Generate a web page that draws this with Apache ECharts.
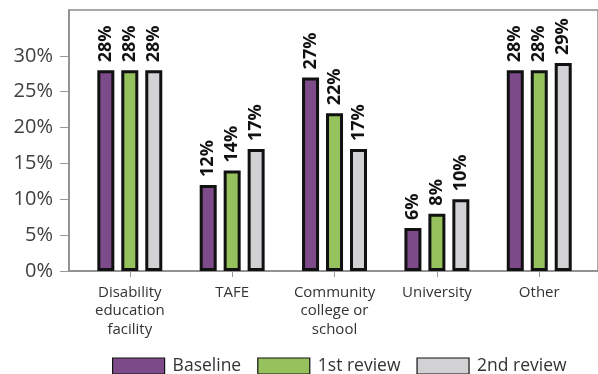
<!DOCTYPE html>
<html>
<head>
<meta charset="utf-8">
<script src="https://cdn.jsdelivr.net/npm/echarts@6/dist/echarts.min.js"></script>
<style>
  html, body { margin: 0; padding: 0; background: #fff; }
  #chart { width: 598px; height: 374px; }
</style>
</head>
<body>
<div id="chart"></div>
<script>
var categories = ['Disability\neducation\nfacility', 'TAFE', 'Community\ncollege or\nschool', 'University', 'Other'];
var seriesNames = ['Baseline', '1st review', '2nd review'];
var baseline = [28, 12, 27, 6, 28];
var firstReview = [28, 14, 22, 8, 28];
var secondReview = [28, 17, 17, 10, 29];
var yTicks = [0, 5, 10, 15, 20, 25, 30];
var colors = ['#7d4b89', '#96c25d', '#d2d2d4'];

var myChart = echarts.init(document.getElementById('chart'));

function toPoints(values) {
    return values.map(function (v, i) { return [i, v]; });
}

var allValues = [baseline, firstReview, secondReview];
var catIndex = categories.map(function (c, i) { return i; });

option = {
    animation: false,
    grid: {
        left: 69,
        right: -2,
        top: 10,
        bottom: 103,
        show: true,
        borderColor: '#8c8c8c',
        borderWidth: 1.5
    },
    legend: {
        left: 112,
        top: 357,
        padding: 0,
        icon: 'rect',
        itemWidth: 52,
        itemHeight: 16,
        itemGap: 16,
        itemStyle: { borderColor: '#111', borderWidth: 1.2 },
        textStyle: { fontFamily: 'Open Sans', fontSize: 17.5, color: '#333', padding: [0, 0, 0, 3] },
        data: seriesNames
    },
    xAxis: {
        type: 'value',
        min: -0.594,
        max: 4.574,
        splitLine: { show: false },
        axisLine: { show: true, onZero: true, lineStyle: { color: '#8c8c8c', width: 1.5 } },
        axisTick: { show: true, length: 6, lineStyle: { color: '#999' }, customValues: catIndex },
        axisLabel: {
            customValues: catIndex,
            formatter: function (v) { return categories[Math.round(v)]; },
            fontFamily: 'Open Sans',
            fontSize: 15,
            lineHeight: 18.5,
            color: '#333',
            margin: 12
        }
    },
    yAxis: {
        type: 'value',
        min: 0,
        max: 36.4,
        splitLine: { show: false },
        axisLine: { show: true, onZero: false, lineStyle: { color: '#8c8c8c', width: 1.5 } },
        axisTick: { show: true, length: 9, lineStyle: { color: '#999' }, customValues: yTicks },
        axisLabel: {
            customValues: yTicks,
            formatter: '{value}%',
            fontFamily: 'Open Sans',
            fontSize: 20,
            color: '#404040',
            margin: 16
        }
    },
    series: seriesNames.map(function (name, k) {
        return {
            name: name,
            type: 'bar',
            barWidth: 17,
            barGap: '41%',
            data: toPoints(allValues[k]),
            itemStyle: { color: colors[k], borderColor: '#111', borderWidth: 3 },
            label: {
                show: true,
                position: 'top',
                rotate: 90,
                align: 'left',
                verticalAlign: 'middle',
                distance: 8,
                formatter: function (p) { return p.value[1] + '%'; },
                fontFamily: 'Open Sans',
                fontWeight: 'bold',
                fontSize: 18,
                color: '#111'
            }
        };
    })
};

myChart.setOption(option);
</script>
</body>
</html>
